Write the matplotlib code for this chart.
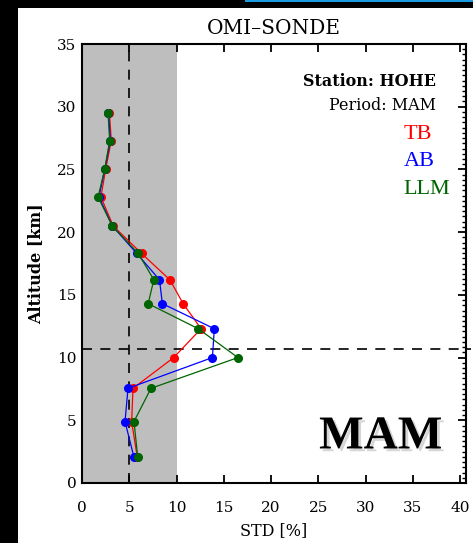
import matplotlib
matplotlib.use("Agg")
import matplotlib.pyplot as plt
import matplotlib.patheffects as pe
from matplotlib.patches import Rectangle
from matplotlib.ticker import MultipleLocator

# Altitude levels [km] and STD [%] per method
altitude = [29.5, 27.3, 25.0, 22.8, 20.5, 18.3, 16.2, 14.3, 12.3, 10.0, 7.55, 4.9, 2.05]
std_tb = [2.9, 3.1, 2.5, 2.0, 3.3, 6.3, 9.3, 10.7, 12.6, 9.7, 5.4, 5.25, 5.85]
std_ab = [2.8, 3.0, 2.4, 1.8, 3.2, 5.8, 8.2, 8.5, 14.0, 13.8, 4.87, 4.55, 5.5]
std_llm = [2.75, 2.93, 2.4, 1.7, 3.2, 5.96, 7.6, 7.0, 12.3, 16.5, 7.3, 5.5, 5.9]

labels = ["TB", "AB", "LLM"]
colors = ["#ff0000", "#0000ff", "#006400"]

station = "HOHE"
period = "MAM"
tropopause = 10.7

serif = "DejaVu Serif"

fig = plt.figure(figsize=(4.73, 5.43), dpi=100, facecolor="black")
# white page + screenshot edge
fig.patches.append(Rectangle((18 / 473, 0), 1, (543 - 8) / 543, transform=fig.transFigure,
                             facecolor="white", edgecolor="none", zorder=-10))
fig.patches.append(Rectangle((245 / 473, 1 - 1.5 / 543), 1, 1.5 / 543, transform=fig.transFigure,
                             facecolor="#1a9be0", edgecolor="none", zorder=-10))

ax = fig.add_axes([82 / 473, 60 / 543, 384 / 473, 439 / 543])
ax.set_facecolor("white")
ax.set_xlim(0, 40.63)
ax.set_ylim(0, 35)

ax.axvspan(0, 10, color="#bebebe", zorder=0, lw=0)
ax.plot([5, 5], [0, 35], color="black", ls=(0, (6, 5)), lw=1.2, zorder=1)
ax.plot([0, 41.2], [tropopause, tropopause], color="black", ls=(0, (6, 5)), lw=1.2,
        zorder=1, clip_on=False)

for vals, col in zip([std_tb, std_ab, std_llm], colors):
    ax.plot(vals, altitude, color=col, lw=0.9, marker="o", ms=5.5, mec=col, mfc=col, zorder=3)

ax.set_xticks(range(0, 41, 5))
ax.set_yticks(range(0, 36, 5))
ax.yaxis.set_minor_locator(MultipleLocator(5 / 12))
ax.tick_params(axis="x", which="major", direction="in", top=True, length=6, width=1.3,
               pad=13, labelsize=11)
ax.tick_params(axis="y", which="major", direction="in", left=True, right=True, length=6,
               width=1.3, pad=4, labelsize=11)
ax.tick_params(axis="y", which="minor", direction="in", left=False, right=True, length=3,
               width=1.0)
ax.tick_params(axis="y", which="both", left=False)
for lab in ax.get_xticklabels() + ax.get_yticklabels():
    lab.set_fontfamily(serif)
for s in ax.spines.values():
    s.set_linewidth(1.5)
    s.set_zorder(4)

ax.set_title("OMI\u2013SONDE", fontfamily=serif, fontsize=14.5, pad=7)
ax.set_xlabel("STD [%]", fontfamily=serif, fontsize=11.5, labelpad=5)
ax.set_ylabel("Altitude [km]", fontfamily=serif, fontsize=11.5, fontweight="bold", labelpad=9)

ax.text(37.5, 32.0, "Station: " + station, ha="right", va="center", fontfamily=serif,
        fontsize=11.5, fontweight="bold")
ax.text(37.5, 30.1, "Period: " + period, ha="right", va="center", fontfamily=serif,
        fontsize=11.5)
for y, lab, col in zip([27.75, 25.6, 23.4], labels, colors):
    ax.text(34.0, y, lab, ha="left", va="center", color=col, fontfamily="Liberation Serif",
            fontsize=16)

ax.text(31.6, 3.63, period, ha="center", va="center", fontfamily="Liberation Serif",
        fontsize=34, fontweight="bold",
        path_effects=[pe.withSimplePatchShadow(offset=(2, -2), shadow_rgbFace="0.55", alpha=0.35)])

fig.savefig("out.png", dpi=100, facecolor=fig.get_facecolor())
